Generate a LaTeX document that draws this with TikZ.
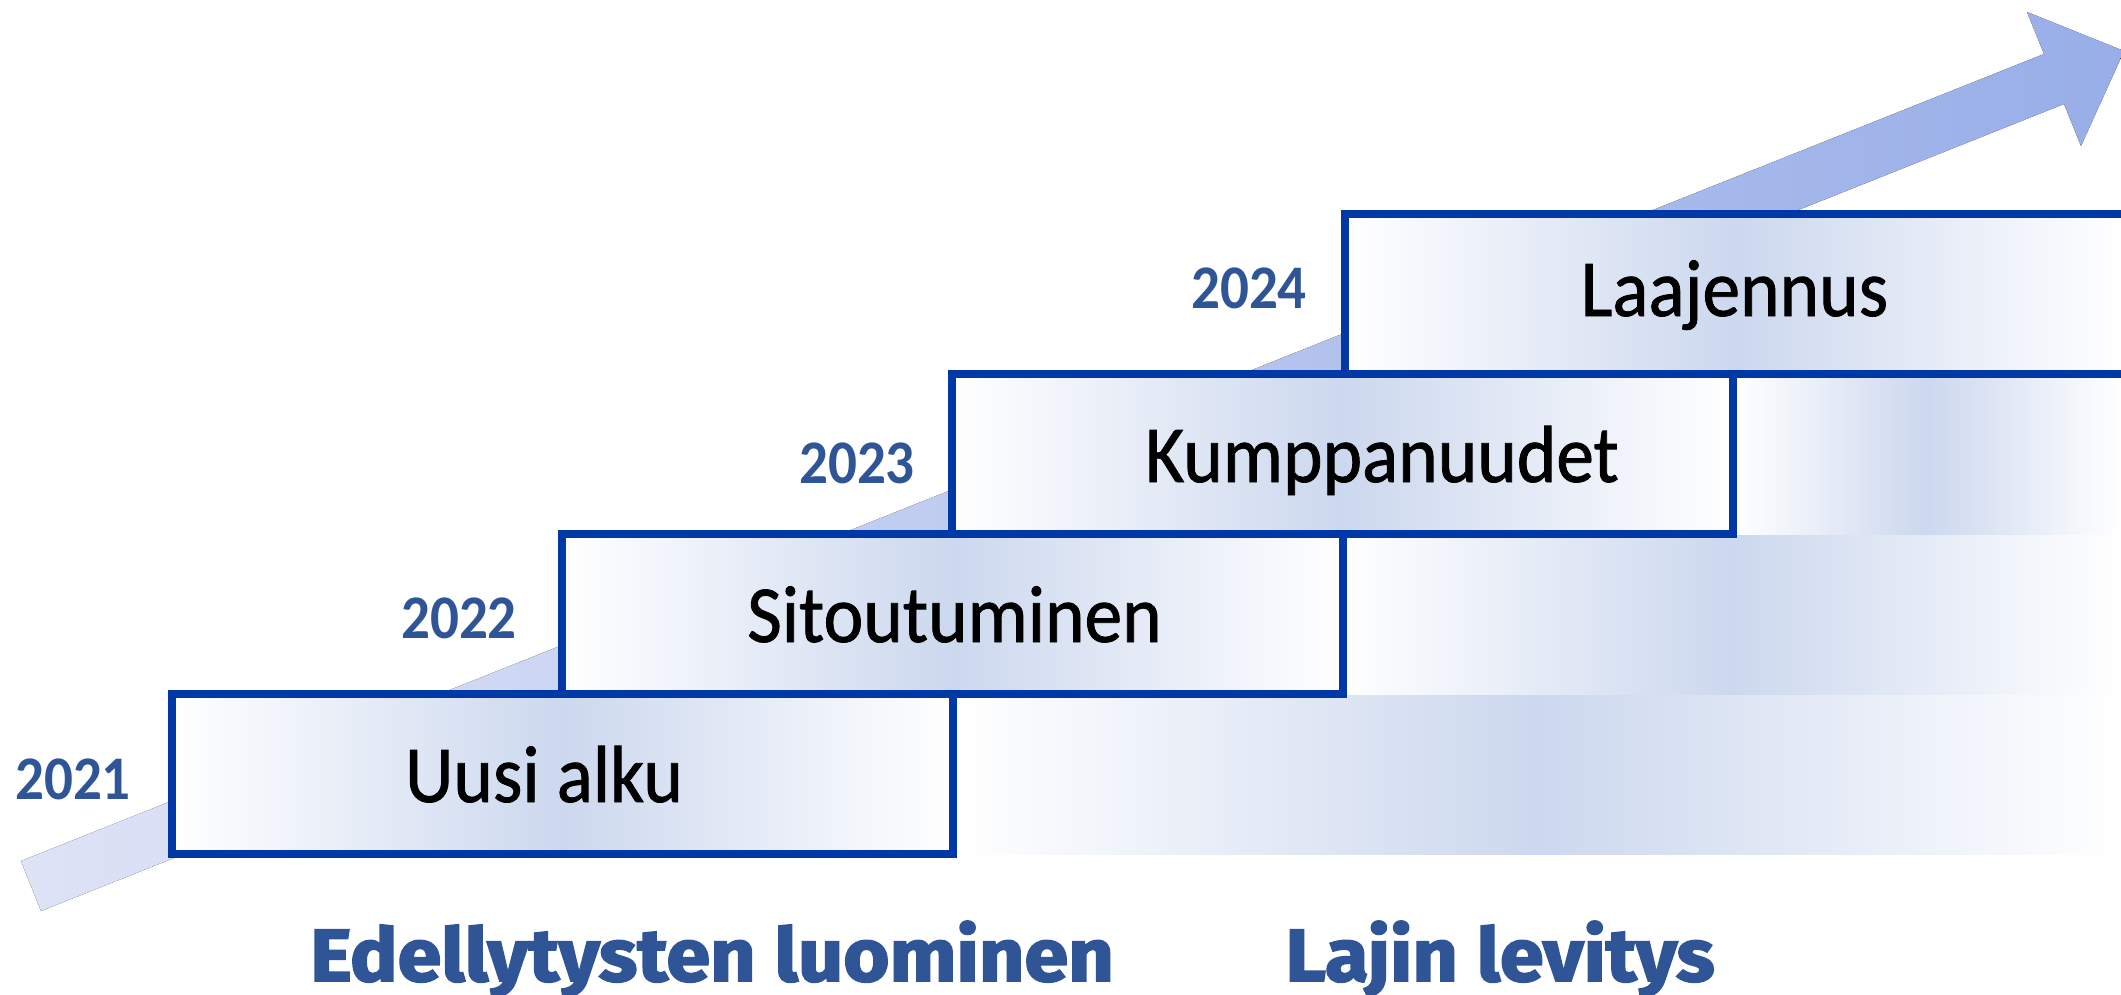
\documentclass[tikz,border=0pt]{standalone}
\usepackage{fontspec}
\setmainfont{Carlito}
\newfontfamily\boxfont{Carlito}[FakeStretch=0.93, FakeBold=1]
\newfontfamily\yearfont{Carlito}[FakeStretch=0.92]
\newfontfamily\bottomfont{Fira Sans}[FakeStretch=1.07, FakeBold=2.5]
\definecolor{boxborder}{RGB}{0,57,166}
\definecolor{yearblue}{RGB}{47,85,151}
\definecolor{boxmid}{RGB}{204,216,238}
\definecolor{arrowL}{RGB}{222,227,246}
\definecolor{arrowR}{RGB}{152,174,232}
\tikzset{
  stepbox/.style={draw=boxborder, line width=8pt, minimum width=781pt, minimum height=160pt,
    inner sep=0pt, outer sep=0pt, left color=white, right color=white, middle color=boxmid},
  fadebox/.style={inner sep=0pt, outer sep=0pt, minimum height=160pt, anchor=north west,
    left color=white, right color=white, middle color=boxmid},
  steplabel/.style={font={\boxfont\fontsize{81}{90}\selectfont}, text=black, anchor=base, inner sep=0pt},
  yearlabel/.style={font={\yearfont\bfseries\fontsize{62}{70}\selectfont}, text=yearblue, anchor=base, inner sep=0pt},
  phaselabel/.style={font={\bottomfont\bfseries\fontsize{74}{80}\selectfont}, text=yearblue, anchor=base, inner sep=0pt},
}
\begin{document}
\begin{tikzpicture}[x=1pt,y=-1pt]
\useasboundingbox (0,0) rectangle (2121,994);
% big rising arrow
\coordinate (a1) at (21,861);
\coordinate (a2) at (41,911);
\coordinate (a3) at (2064,104);
\coordinate (a4) at (2081,146);
\coordinate (tip) at (2124,51);
\coordinate (a6) at (2027,12);
\coordinate (a7) at (2044,54);
\fill[left color=arrowL, right color=arrowR] (a1) -- (a2) -- (a3) -- (a4) -- (tip) -- (a6) -- (a7) -- cycle;
% faded extensions
\node[fadebox, minimum width=1167pt] (e1) at (954,694) {};
\node[fadebox, minimum width=781pt] (e2) at (1340,534) {};
\node[fadebox, minimum width=388pt] (e3) at (1733,374) {};
% steps
\node[stepbox] (b1) at (562.5,774) {};
\node[stepbox] (b2) at (952.5,614) {};
\node[stepbox] (b3) at (1342.5,454) {};
\node[stepbox] (b4) at (1735,294) {};
% step texts
\node[steplabel] (t1) at (544,802) {Uusi alku};
\node[steplabel] (t2) at (954.5,642) {Sitoutuminen};
\node[steplabel] (t3) at (1382,482) {Kumppanuudet};
\node[steplabel] (t4) at (1734.5,316) {Laajennus};
% years
\node[yearlabel] (y1) at (73,799) {2021};
\node[yearlabel] (y2) at (459,638) {2022};
\node[yearlabel] (y3) at (857,483) {2023};
\node[yearlabel] (y4) at (1249,308) {2024};
% phases
\node[phaselabel] (p1) at (712,981) {Edellytysten luominen};
\node[phaselabel] (p2) at (1500,981) {Lajin levitys};
\end{tikzpicture}
\end{document}
